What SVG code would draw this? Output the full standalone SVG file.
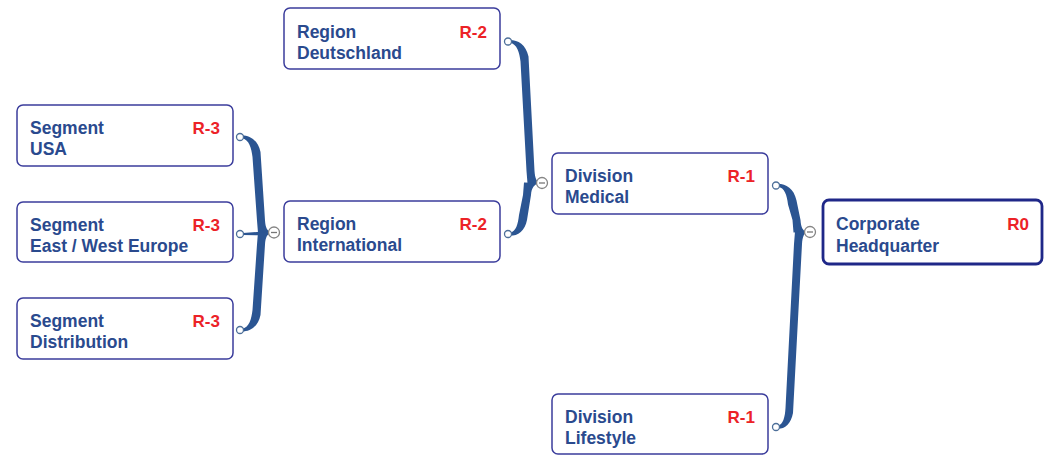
<svg xmlns="http://www.w3.org/2000/svg" width="1050" height="456" viewBox="0 0 1050 456">
  <style>
    .box { fill: #ffffff; stroke: #3b3d9c; stroke-width: 1.5; }
    .root { fill: #ffffff; stroke: #1f2788; stroke-width: 2.8; }
    .lbl { font-family: "Liberation Sans", Arial, sans-serif; font-weight: bold; font-size: 17.5px; fill: #2a4a8e; }
    .lvl { font-family: "Liberation Sans", Arial, sans-serif; font-weight: bold; font-size: 17px; fill: #ec2227; text-anchor: end; }
    .brace { fill: #2b5592; }
    .port { fill: #ffffff; stroke: #4d6f99; stroke-width: 1.3; }
    .toggle { fill: #ffffff; stroke: #858585; stroke-width: 1.3; }
    .minus { stroke: #777777; stroke-width: 1.3; }
  </style>

  <!-- tapered brace connectors -->
  <g id="connectors">
    <!-- segments -> Region International -->
    <path class="brace" transform="translate(240,137)" d="M2,-1.6 C10,-1.6 18,3 20.5,15 L25,83.5 C25.5,90.5 27,94.5 32,95.5 L18,96 L17,83.5 L12.5,20 C11.5,11 9,2 2,1.4 Z"/>
    <path class="brace" transform="translate(240,234)" d="M3,-1 L20,-2.2 L32,-3 L32,0 L20,1.2 L3,1 Z"/>
    <path class="brace" transform="translate(240,330) scale(1,-1)" d="M2,-1.6 C10,-1.6 18,3 20.5,15 L25,85.5 C25.5,92.5 27,96.5 32,97.5 L18,98 L17,85.5 L12.5,20 C11.5,11 9,2 2,1.4 Z"/>
    <!-- regions -> Division Medical -->
    <path class="brace" transform="translate(508,41.5)" d="M2,-1.6 C10,-1.6 18,3 20.5,15 L26.5,129.5 C27,136.5 28.5,140.5 32,141.5 L19.5,142 L18.5,129.5 L12.5,20 C11.5,11 9,2 2,1.4 Z"/>
    <path class="brace" transform="translate(508,234) scale(1,-1)" d="M2,-1.8 C10,-1.8 17,3 19,14 L23,39 C23.5,46 26,50 32,51 L16,51.5 L15,39 L11,19 C10,10 8,2 2,1.6 Z"/>
    <!-- divisions -> Corporate Headquarter -->
    <path class="brace" transform="translate(776,185.5)" d="M2,-1.8 C10,-1.8 18,3 20.5,15 L24.5,34.5 C25,41.5 26.5,45.5 31,46.5 L17.5,47 L16.5,34.5 L12,19 C11,10 8.5,2 2,1.6 Z"/>
    <path class="brace" transform="translate(776,427) scale(1,-1)" d="M2,-1.8 C9,-1.8 15,3 17,14 L26,183 C26.5,190 28,194 31,195 L19,195.5 L18,183 L9.5,19 C9,10 7,2 2,1.6 Z"/>

    <!-- child ports -->
    <circle class="port" cx="240" cy="137" r="3.5"/>
    <circle class="port" cx="240" cy="234" r="3.5"/>
    <circle class="port" cx="240" cy="330" r="3.5"/>
    <circle class="port" cx="508" cy="41.5" r="3.5"/>
    <circle class="port" cx="508" cy="234" r="3.5"/>
    <circle class="port" cx="776" cy="185.5" r="3.5"/>
    <circle class="port" cx="776" cy="427" r="3.5"/>

    <!-- collapse toggles -->
    <circle class="toggle" cx="274" cy="232.5" r="5.5"/>
    <line class="minus" x1="271" y1="232.5" x2="277" y2="232.5"/>
    <circle class="toggle" cx="542" cy="183" r="5.5"/>
    <line class="minus" x1="539" y1="183" x2="545" y2="183"/>
    <circle class="toggle" cx="810" cy="232" r="5.5"/>
    <line class="minus" x1="807" y1="232" x2="813" y2="232"/>
  </g>

  <g id="segment-usa">
    <rect class="box" x="17" y="105" width="216" height="61" rx="6"/>
    <text class="lbl" x="30" y="134">Segment</text>
    <text class="lbl" x="30" y="155">USA</text>
    <text class="lvl" x="220" y="134">R-3</text>
  </g>

  <g id="segment-east-west-europe">
    <rect class="box" x="17" y="202" width="216" height="60" rx="6"/>
    <text class="lbl" x="30" y="231">Segment</text>
    <text class="lbl" x="30" y="252">East / West Europe</text>
    <text class="lvl" x="220" y="231">R-3</text>
  </g>

  <g id="segment-distribution">
    <rect class="box" x="17" y="298" width="216" height="61" rx="6"/>
    <text class="lbl" x="30" y="327">Segment</text>
    <text class="lbl" x="30" y="348">Distribution</text>
    <text class="lvl" x="220" y="327">R-3</text>
  </g>

  <g id="region-deutschland">
    <rect class="box" x="284" y="8" width="216" height="61" rx="6"/>
    <text class="lbl" x="297" y="37.5">Region</text>
    <text class="lbl" x="297" y="58.5">Deutschland</text>
    <text class="lvl" x="487" y="37.5">R-2</text>
  </g>

  <g id="region-international">
    <rect class="box" x="284" y="201" width="216" height="61" rx="6"/>
    <text class="lbl" x="297" y="230">Region</text>
    <text class="lbl" x="297" y="251">International</text>
    <text class="lvl" x="487" y="230">R-2</text>
  </g>

  <g id="division-medical">
    <rect class="box" x="552" y="153" width="216" height="61" rx="6"/>
    <text class="lbl" x="565" y="182">Division</text>
    <text class="lbl" x="565" y="203">Medical</text>
    <text class="lvl" x="755" y="182">R-1</text>
  </g>

  <g id="division-lifestyle">
    <rect class="box" x="552" y="394" width="216" height="60" rx="6"/>
    <text class="lbl" x="565" y="423">Division</text>
    <text class="lbl" x="565" y="444">Lifestyle</text>
    <text class="lvl" x="755" y="423">R-1</text>
  </g>

  <g id="corporate-headquarter">
    <rect class="root" x="823" y="200" width="219" height="64" rx="6"/>
    <text class="lbl" x="836" y="230">Corporate</text>
    <text class="lbl" x="836" y="251.5">Headquarter</text>
    <text class="lvl" x="1029" y="230">R0</text>
  </g>
</svg>
